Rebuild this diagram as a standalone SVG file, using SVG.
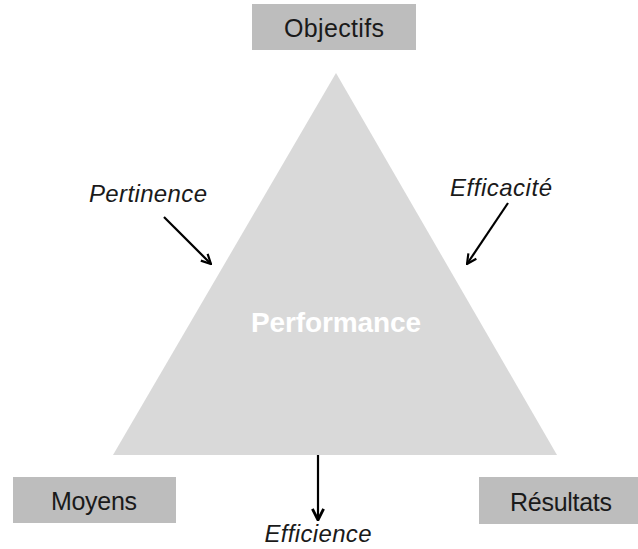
<svg xmlns="http://www.w3.org/2000/svg" width="638" height="549" viewBox="0 0 638 549">
<style>
.box{fill:#bdbdbd}
.lbl{font-family:"Liberation Sans",Arial,sans-serif;font-size:25px;fill:#1a1a1a;text-anchor:middle}
.it{font-family:"Liberation Sans",Arial,sans-serif;font-size:24px;font-style:italic;fill:#1a1a1a;text-anchor:middle}
.arr{stroke:#000;stroke-width:2.2;fill:none}
</style>
<defs>
<marker id="h" viewBox="0 0 10 10" refX="9" refY="5" markerWidth="12" markerHeight="12" orient="auto" markerUnits="userSpaceOnUse">
<path d="M1,1 L9,5 L1,9" fill="none" stroke="#000" stroke-width="1.8"/>
</marker>
<marker id="h2" viewBox="0 0 10 10" refX="9" refY="5" markerWidth="14" markerHeight="14" orient="auto" markerUnits="userSpaceOnUse">
<path d="M1,1 L9,5 L1,9" fill="none" stroke="#000" stroke-width="2"/>
</marker>
</defs>
<rect width="638" height="549" fill="#fff"/>
<g id="performance">
<polygon points="336,73 557,455 113,455" fill="#d9d9d9"/>
<text x="336" y="332" font-family="Liberation Sans,Arial,sans-serif" font-size="28" font-weight="bold" fill="#fff" text-anchor="middle" textLength="170">Performance</text>
</g>
<g id="objectifs">
<rect class="box" x="252" y="4" width="164" height="46"/>
<text class="lbl" x="334" y="37" textLength="100">Objectifs</text>
</g>
<g id="moyens">
<rect class="box" x="13" y="477" width="163" height="46"/>
<text class="lbl" x="94" y="510" textLength="86">Moyens</text>
</g>
<g id="resultats">
<rect class="box" x="479" y="477" width="159" height="47"/>
<text class="lbl" x="561" y="511" textLength="102">Résultats</text>
</g>
<g id="pertinence"><text class="it" x="148" y="202" textLength="118">Pertinence</text></g>
<g id="efficacite"><text class="it" x="501" y="196" textLength="102">Efficacité</text></g>
<g id="efficience"><text class="it" x="318" y="542" textLength="107">Efficience</text></g>
<g id="connectors">
<line class="arr" x1="164" y1="217" x2="211" y2="264" marker-end="url(#h)"/>
<line class="arr" x1="508" y1="203" x2="467" y2="264" marker-end="url(#h)"/>
<line class="arr" x1="318" y1="455" x2="318" y2="520" stroke-width="3" marker-end="url(#h2)"/>
</g>
</svg>
